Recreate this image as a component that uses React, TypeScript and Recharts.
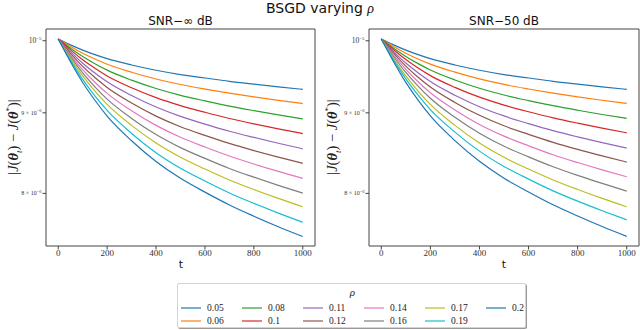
import { Line, LineChart, ReferenceArea, XAxis, YAxis } from "recharts";

// step t of BSGD
const tValues = [0, 50, 100, 150, 200, 300, 400, 500, 600, 700, 800, 900, 1000];
const rhoLabels = ["0.05", "0.06", "0.08", "0.1", "0.11", "0.12", "0.14", "0.16", "0.17", "0.19", "0.2"];
const lineColors = [
  "#1f77b4", "#ff7f0e", "#2ca02c", "#d62728", "#9467bd", "#8c564b",
  "#e377c2", "#7f7f7f", "#bcbd22", "#17becf", "#1f77b4",
];
const xTicks = [0, 200, 400, 600, 800, 1000];
// |J(θ_t) − J(θ*)| is kept in units of 1e-6
const yTicks = [8, 9, 10];
const yDomain = [7.408, 10.173];

// SNR −∞ dB
const inf005 = [10.025, 9.94, 9.864, 9.799, 9.741, 9.652, 9.578, 9.518, 9.47, 9.424, 9.385, 9.348, 9.314];
const inf006 = [10.025, 9.917, 9.819, 9.736, 9.663, 9.55, 9.456, 9.38, 9.318, 9.262, 9.212, 9.166, 9.123];
const inf008 = [10.025, 9.891, 9.771, 9.669, 9.579, 9.44, 9.325, 9.233, 9.158, 9.089, 9.029, 8.973, 8.921];
const inf010 = [10.025, 9.867, 9.725, 9.605, 9.499, 9.336, 9.202, 9.095, 9.007, 8.926, 8.856, 8.792, 8.731];
const inf011 = [10.025, 9.842, 9.677, 9.539, 9.417, 9.23, 9.076, 8.953, 8.853, 8.761, 8.682, 8.608, 8.539];
const inf012 = [10.025, 9.818, 9.632, 9.476, 9.339, 9.129, 8.957, 8.819, 8.708, 8.606, 8.517, 8.435, 8.359];
const inf014 = [10.025, 9.793, 9.586, 9.412, 9.259, 9.027, 8.836, 8.684, 8.561, 8.449, 8.351, 8.261, 8.178];
const inf016 = [10.025, 9.769, 9.54, 9.349, 9.182, 8.927, 8.719, 8.554, 8.42, 8.297, 8.192, 8.094, 8.004];
const inf017 = [10.025, 9.746, 9.498, 9.291, 9.111, 8.836, 8.611, 8.434, 8.29, 8.159, 8.046, 7.942, 7.845];
const inf019 = [10.025, 9.721, 9.451, 9.226, 9.031, 8.733, 8.491, 8.3, 8.146, 8.005, 7.884, 7.773, 7.669];
const inf020 = [10.025, 9.697, 9.408, 9.167, 8.957, 8.64, 8.382, 8.178, 8.015, 7.866, 7.738, 7.62, 7.511];

// SNR −50 dB
const n50005 = [10.025, 9.94, 9.864, 9.799, 9.741, 9.652, 9.578, 9.518, 9.47, 9.424, 9.385, 9.348, 9.314];
const n50006 = [10.025, 9.917, 9.82, 9.737, 9.664, 9.551, 9.457, 9.381, 9.319, 9.263, 9.213, 9.167, 9.125];
const n50008 = [10.025, 9.892, 9.773, 9.671, 9.582, 9.443, 9.329, 9.237, 9.162, 9.094, 9.034, 8.978, 8.927];
const n50010 = [10.025, 9.868, 9.728, 9.608, 9.503, 9.341, 9.208, 9.102, 9.014, 8.934, 8.865, 8.801, 8.741];
const n50011 = [10.025, 9.843, 9.679, 9.542, 9.42, 9.234, 9.081, 8.959, 8.859, 8.768, 8.689, 8.616, 8.548];
const n50012 = [10.025, 9.82, 9.636, 9.481, 9.346, 9.138, 8.967, 8.831, 8.721, 8.62, 8.532, 8.451, 8.375];
const n50014 = [10.025, 9.795, 9.591, 9.418, 9.268, 9.038, 8.848, 8.698, 8.577, 8.465, 8.369, 8.28, 8.197];
const n50016 = [10.025, 9.772, 9.547, 9.358, 9.193, 8.941, 8.735, 8.571, 8.439, 8.318, 8.213, 8.118, 8.027];
const n50017 = [10.025, 9.746, 9.498, 9.291, 9.111, 8.836, 8.611, 8.434, 8.29, 8.159, 8.046, 7.942, 7.845];
const n50019 = [10.025, 9.725, 9.459, 9.237, 9.043, 8.75, 8.51, 8.321, 8.169, 8.03, 7.91, 7.8, 7.697];
const n50020 = [10.025, 9.697, 9.409, 9.168, 8.959, 8.642, 8.384, 8.18, 8.017, 7.868, 7.74, 7.622, 7.513];

const snrInfSeries = [inf005, inf006, inf008, inf010, inf011, inf012, inf014, inf016, inf017, inf019, inf020];
const snr50Series = [n50005, n50006, n50008, n50010, n50011, n50012, n50014, n50016, n50017, n50019, n50020];

const SERIF = "'Liberation Serif', 'DejaVu Serif', serif";
const SANS = "'DejaVu Sans', sans-serif";

function buildRows(series: number[][]) {
  return tValues.map((t, i) => {
    const row: Record<string, number> = { t };
    series.forEach((values, k) => {
      row[`s${k}`] = values[i];
    });
    return row;
  });
}

function LogTick(props: any) {
  const { x, y, payload } = props;
  const v = payload.value as number;
  if (v === 10) {
    return (
      <text x={x} y={y} dy={2.5} textAnchor="end" fontSize={7.5} fill="#333" fontFamily={SERIF}>
        10<tspan dy={-3} fontSize={5}>−5</tspan>
      </text>
    );
  }
  return (
    <text x={x} y={y} dy={2} textAnchor="end" fontSize={6} fill="#333" fontFamily={SERIF}>
      {`${v} × 10`}<tspan dy={-2.5} fontSize={4.5}>−6</tspan>
    </text>
  );
}

function YLabel({ left }: { left: number }) {
  return (
    <div
      style={{
        position: "absolute",
        left,
        top: 137,
        transform: "translate(-50%, -50%) rotate(-90deg)",
        whiteSpace: "nowrap",
        fontFamily: SERIF,
        fontSize: 14.5,
        color: "#222",
      }}
    >
      |<i>J</i>(<b><i>θ</i></b><sub style={{ fontSize: 9 }}><i>t</i></sub>) − <i>J</i>(<b><i>θ</i></b>
      <sup style={{ fontSize: 9 }}>*</sup>)|
    </div>
  );
}

function Panel({ series, yAxisWidth, marginRight }: { series: number[][]; yAxisWidth: number; marginRight: number }) {
  const rows = buildRows(series);
  return (
    <LineChart width={320} height={270} data={rows} margin={{ top: 29, right: marginRight, bottom: 4, left: 0 }}>
      <XAxis
        dataKey="t"
        type="number"
        domain={[-50, 1050]}
        ticks={xTicks}
        allowDataOverflow
        axisLine={false}
        tickLine={{ stroke: "#444" }}
        tickSize={3.5}
        tickMargin={0}
        height={20}
        tick={{ fontSize: 9, fill: "#333", fontFamily: SERIF }}
      />
      <YAxis
        scale="log"
        type="number"
        domain={yDomain}
        allowDataOverflow
        ticks={yTicks}
        width={yAxisWidth}
        axisLine={false}
        tickLine={{ stroke: "#444" }}
        tickSize={3.5}
        tickMargin={1}
        tick={<LogTick />}
      />
      <ReferenceArea
        x1={-50}
        x2={1050}
        y1={yDomain[0]}
        y2={yDomain[1]}
        fill="none"
        stroke="#444"
        strokeWidth={1}
        ifOverflow="visible"
      />
      {series.map((_, k) => (
        <Line
          key={k}
          dataKey={`s${k}`}
          stroke={lineColors[k]}
          strokeWidth={1.2}
          dot={false}
          type="monotone"
          isAnimationActive={false}
        />
      ))}
    </LineChart>
  );
}

export default function App() {
  return (
    <div
      style={{
        position: "absolute",
        left: 0,
        top: 0,
        width: 640,
        height: 330,
        background: "#fff",
        overflow: "hidden",
      }}
    >
      <div
        style={{
          position: "absolute",
          left: 0,
          top: 0,
          width: 640,
          textAlign: "center",
          fontFamily: SANS,
          fontSize: 14,
          lineHeight: "16px",
          color: "#111",
        }}
      >
        BSGD varying <i style={{ fontFamily: SERIF }}>ρ</i>
      </div>
      <div style={{ position: "absolute", left: 46, width: 269, top: 14, textAlign: "center", fontFamily: SANS, fontSize: 12, color: "#111" }}>
        SNR−∞ dB
      </div>
      <div style={{ position: "absolute", left: 369, width: 270, top: 14, textAlign: "center", fontFamily: SANS, fontSize: 12, color: "#111" }}>
        SNR−50 dB
      </div>

      <div style={{ position: "absolute", left: 0, top: 0 }}>
        <Panel series={snrInfSeries} yAxisWidth={46} marginRight={5} />
      </div>
      <div style={{ position: "absolute", left: 320, top: 0 }}>
        <Panel series={snr50Series} yAxisWidth={49} marginRight={1} />
      </div>

      <YLabel left={14} />
      <YLabel left={333} />

      <div style={{ position: "absolute", left: 175, width: 12, top: 258, textAlign: "center", fontFamily: SANS, fontSize: 11, color: "#111" }}>
        t
      </div>
      <div style={{ position: "absolute", left: 498, width: 12, top: 258, textAlign: "center", fontFamily: SANS, fontSize: 11, color: "#111" }}>
        t
      </div>

      <div
        style={{
          position: "absolute",
          left: 177,
          top: 283,
          width: 349,
          height: 45,
          boxSizing: "border-box",
          border: "1px solid #d4d4d4",
          borderRadius: 2,
          boxShadow: "1px 1px 0 #999",
          background: "#fff",
        }}
      >
        <div style={{ position: "absolute", left: 0, width: 349, top: 2, textAlign: "center", fontFamily: SERIF, fontStyle: "italic", fontSize: 11, color: "#222" }}>
          ρ
        </div>
        {rhoLabels.map((label, k) => {
          const col = Math.floor(k / 2);
          const row = k % 2;
          return (
            <div
              key={label}
              style={{
                position: "absolute",
                left: 3 + col * 61,
                top: 18 + row * 13,
                display: "flex",
                alignItems: "center",
                height: 11,
              }}
            >
              <span style={{ display: "inline-block", width: 20, height: 2, background: lineColors[k], opacity: 0.6 }} />
              <span style={{ marginLeft: 6, fontFamily: SERIF, fontSize: 9.5, color: "#222" }}>{label}</span>
            </div>
          );
        })}
      </div>
    </div>
  );
}
